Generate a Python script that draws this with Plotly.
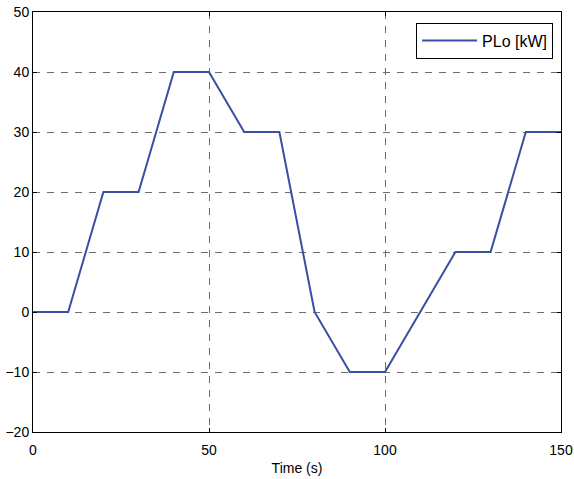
import plotly.graph_objects as go

time_s = [0, 10, 20, 30, 40, 50, 60, 70, 80, 90, 100, 120, 130, 140, 150]
plo_kw = [0, 0, 20, 20, 40, 40, 30, 30, 0, -10, -10, 10, 10, 30, 30]

x_ticks = [0, 50, 100, 150]
y_ticks = [-20, -10, 0, 10, 20, 30, 40, 50]

FONT = "Liberation Sans, Arial"

fig = go.Figure()
fig.add_trace(go.Scatter(x=time_s, y=plo_kw, mode="lines", name="PLo [kW]",
                         line=dict(color="#3a4ea3", width=2)))

axis_common = dict(showline=True, linecolor="black", linewidth=1, mirror="ticks",
                   ticks="inside", ticklen=4, tickcolor="black",
                   showgrid=True, gridcolor="#6e6e6e", griddash="7px,7px", gridwidth=1,
                   zeroline=False, automargin=False,
                   tickfont=dict(family=FONT, size=14, color="black"))

fig.update_xaxes(range=[0, 150], tickvals=x_ticks, ticklabelstandoff=5,
                 title=dict(text="Time (s)", font=dict(family=FONT, size=14, color="black"), standoff=6),
                 **axis_common)
fig.update_yaxes(range=[-20, 50], tickvals=y_ticks, **axis_common)

fig.update_layout(
    width=574, height=479,
    margin=dict(l=33, r=13, t=12, b=47),
    plot_bgcolor="white", paper_bgcolor="white",
    showlegend=True,
    legend=dict(x=0.985, y=0.975, xanchor="right", yanchor="top",
                bordercolor="black", borderwidth=1, bgcolor="white",
                itemwidth=55,
                font=dict(family=FONT, size=16, color="black")),
)

fig.write_html("out.html", post_script="document.body.style.margin='0';",
               config={"displayModeBar": False})
